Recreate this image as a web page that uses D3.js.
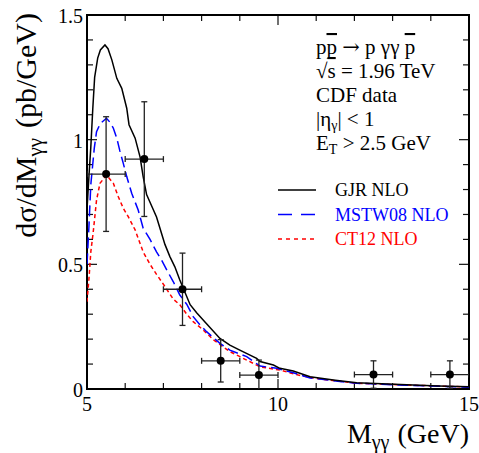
<!DOCTYPE html>
<html>
<head>
<meta charset="utf-8">
<script src="https://cdn.jsdelivr.net/npm/d3@7"></script>
<style>
  body { margin: 0; background: #fff; }
  text { font-family: "Liberation Serif", "DejaVu Serif", serif; }
</style>
</head>
<body>
<script>
//CDF exclusive diphoton data points (bin centres, values, errors)
var cdfMass = [5.5, 6.5, 7.5, 8.5, 9.5, 12.5, 14.5];
var cdfXsec = [0.862, 0.922, 0.40, 0.113, 0.056, 0.058, 0.058];
var cdfErr = [0.23, 0.23, 0.145, 0.085, 0.06, 0.055, 0.055];
var cdfBinHalf = [0.5, 0.5, 0.5, 0.5, 0.5, 0.5, 0.5];

//GJR NLO curve
var gjrMass = [5.0, 5.05, 5.1, 5.15, 5.2, 5.28, 5.35, 5.47, 5.55, 5.65, 5.78, 5.91, 6.04, 6.1, 6.26, 6.39, 6.47, 6.56, 6.69, 6.82, 6.96, 7.04, 7.17, 7.3, 7.43, 7.52, 7.7, 7.87, 8.13, 8.48, 8.74, 9.0, 9.44, 9.53, 9.88, 10.05, 10.4, 10.84, 11.5, 12.06, 13.37, 14.2, 15.0];
var gjrXsec = [0.72, 0.85, 0.97, 1.12, 1.25, 1.327, 1.36, 1.38, 1.365, 1.32, 1.246, 1.206, 1.126, 1.06, 1.006, 0.93, 0.852, 0.78, 0.735, 0.69, 0.62, 0.58, 0.531, 0.49, 0.437, 0.404, 0.338, 0.306, 0.262, 0.203, 0.176, 0.156, 0.123, 0.11, 0.096, 0.083, 0.072, 0.049, 0.035, 0.025, 0.017, 0.012, 0.009];

//MSTW08 NLO curve
var mstwMass = [5.0, 5.05, 5.1, 5.19, 5.25, 5.35, 5.51, 5.6, 5.69, 5.78, 5.86, 5.95, 6.04, 6.17, 6.34, 6.47, 6.65, 6.82, 6.96, 7.09, 7.26, 7.43, 7.61, 7.78, 7.96, 8.13, 8.48, 8.74, 9.18, 9.53, 9.97, 10.4, 10.84, 12.06, 13.37, 15.0];
var mstwXsec = [0.50, 0.65, 0.82, 0.965, 1.032, 1.065, 1.086, 1.07, 1.046, 1.006, 0.955, 0.905, 0.852, 0.785, 0.718, 0.645, 0.60, 0.55, 0.515, 0.477, 0.43, 0.377, 0.34, 0.29, 0.257, 0.23, 0.183, 0.156, 0.13, 0.092, 0.083, 0.065, 0.044, 0.023, 0.015, 0.007];

//CT12 NLO curve
var ctMass = [5.0, 5.05, 5.1, 5.16, 5.25, 5.34, 5.51, 5.69, 5.82, 5.95, 6.08, 6.26, 6.47, 6.65, 6.82, 7.0, 7.26, 7.43, 7.61, 7.78, 8.04, 8.31, 8.74, 9.18, 9.53, 10.05, 10.53, 11.0, 12.06, 13.37, 15.0];
var ctXsec = [0.35, 0.44, 0.55, 0.625, 0.758, 0.825, 0.858, 0.825, 0.771, 0.725, 0.691, 0.638, 0.55, 0.50, 0.46, 0.42, 0.36, 0.338, 0.3, 0.27, 0.237, 0.197, 0.15, 0.116, 0.089, 0.076, 0.056, 0.042, 0.023, 0.016, 0.008];

//Tick labels
var xTickLabels = [5, 10, 15];
var yTickLabels = [0, 0.5, 1, 1.5];

//Plot area
var w = 479, h = 453;
var padL = 87, padR = 469, padT = 15, padB = 389;

var xScale = d3.scaleLinear().domain([5, 15]).range([padL, padR]);
var yScale = d3.scaleLinear().domain([0, 1.5]).range([padB, padT]);

var svg = d3.select("body")
  .append("svg")
  .attr("width", w)
  .attr("height", h);

svg.append("rect").attr("width", w).attr("height", h).attr("fill", "#fff");

svg.append("clipPath").attr("id", "plotclip")
  .append("rect")
  .attr("x", padL).attr("y", padT)
  .attr("width", padR - padL).attr("height", padB - padT);

//Ticks (inward, mirrored on top and right)
var ticks = svg.append("g").attr("stroke", "#111").attr("stroke-width", 1.2);
d3.range(5, 15.01, 1).forEach(function(v) {
  var len = (v % 5 === 0) ? 10 : 6;
  var x = xScale(v);
  ticks.append("line").attr("x1", x).attr("x2", x).attr("y1", padB).attr("y2", padB - len);
  ticks.append("line").attr("x1", x).attr("x2", x).attr("y1", padT).attr("y2", padT + len);
});
d3.range(0, 15.01, 1).forEach(function(k) {
  var len = (k % 5 === 0) ? 10 : 6;
  var y = yScale(k / 10);
  ticks.append("line").attr("x1", padL).attr("x2", padL + len).attr("y1", y).attr("y2", y);
  ticks.append("line").attr("x1", padR).attr("x2", padR - len).attr("y1", y).attr("y2", y);
});

//Frame
svg.append("rect")
  .attr("x", padL).attr("y", padT)
  .attr("width", padR - padL).attr("height", padB - padT)
  .attr("fill", "none").attr("stroke", "#000").attr("stroke-width", 2);

//Tick labels
svg.selectAll(".xlab")
  .data(xTickLabels)
  .enter()
  .append("text")
  .attr("x", function(d) { return xScale(d); })
  .attr("y", 411)
  .attr("text-anchor", "middle")
  .attr("font-size", 20)
  .text(function(d) { return d; });

svg.selectAll(".ylab")
  .data(yTickLabels)
  .enter()
  .append("text")
  .attr("x", 83)
  .attr("y", function(d) { return yScale(d) + 8; })
  .attr("text-anchor", "end")
  .attr("font-size", 20)
  .text(function(d) { return d; });

//Axis titles
var xt = svg.append("text")
  .attr("x", padR).attr("y", 443)
  .attr("text-anchor", "end")
  .attr("font-size", 28);
xt.append("tspan").text("M");
xt.append("tspan").attr("font-size", 20).attr("dy", 6).text("γγ");
xt.append("tspan").attr("dy", -6).attr("dx", 8).text("(GeV)");

var yt = svg.append("text")
  .attr("transform", "translate(36,13) rotate(-90)")
  .attr("text-anchor", "end")
  .attr("font-size", 30);
yt.append("tspan").text("dσ/dM");
yt.append("tspan").attr("font-size", 21).attr("dy", 6).text("γγ");
yt.append("tspan").attr("dy", -6).attr("dx", 10).text("(pb/GeV)");

//Theory curves
var line = d3.line()
  .x(function(d) { return xScale(d[0]); })
  .y(function(d) { return yScale(d[1]); });

var curves = svg.append("g").attr("clip-path", "url(#plotclip)").attr("fill", "none");
curves.append("path")
  .attr("d", line(d3.zip(ctMass, ctXsec)))
  .attr("stroke", "#ff0000").attr("stroke-width", 1.5)
  .attr("stroke-dasharray", "4,3");
curves.append("path")
  .attr("d", line(d3.zip(mstwMass, mstwXsec)))
  .attr("stroke", "#0000ff").attr("stroke-width", 1.5)
  .attr("stroke-dasharray", "11,5");
curves.append("path")
  .attr("d", line(d3.zip(gjrMass, gjrXsec)))
  .attr("stroke", "#000").attr("stroke-width", 1.5);

//Data points with error bars
var pts = svg.append("g").attr("clip-path", "url(#plotclip)");
cdfMass.forEach(function(m, i) {
  var cx = xScale(m), cy = yScale(cdfXsec[i]);
  var x0 = xScale(m - cdfBinHalf[i]), x1 = xScale(m + cdfBinHalf[i]);
  var y0 = yScale(cdfXsec[i] - cdfErr[i]), y1 = yScale(cdfXsec[i] + cdfErr[i]);
  var g = pts.append("g").attr("stroke", "#222").attr("stroke-width", 1.3);
  g.append("line").attr("x1", x0).attr("x2", x1).attr("y1", cy).attr("y2", cy);
  g.append("line").attr("x1", cx).attr("x2", cx).attr("y1", y0).attr("y2", y1);
  g.append("line").attr("x1", x0).attr("x2", x0).attr("y1", cy - 3).attr("y2", cy + 3);
  g.append("line").attr("x1", x1).attr("x2", x1).attr("y1", cy - 3).attr("y2", cy + 3);
  g.append("line").attr("x1", cx - 3).attr("x2", cx + 3).attr("y1", y0).attr("y2", y0);
  g.append("line").attr("x1", cx - 3).attr("x2", cx + 3).attr("y1", y1).attr("y2", y1);
  pts.append("circle").attr("cx", cx).attr("cy", cy).attr("r", 4).attr("fill", "#000");
});

//Process annotation
var ann = svg.append("g").attr("font-size", 21);
var a1 = ann.append("text").attr("x", 316).attr("y", 54);
a1.append("tspan").text("p");
a1.append("tspan").style("text-decoration", "overline").text("p");
a1.append("tspan").text(" ");
a1.append("tspan").attr("font-family", "DejaVu Serif").attr("font-size", 21).text("→");
a1.append("tspan").text(" p γγ ");
a1.append("tspan").style("text-decoration", "overline").text("p");
var a2 = ann.append("text").attr("x", 316).attr("y", 78);
a2.append("tspan").text("√");
a2.append("tspan").style("text-decoration", "overline").text("s");
a2.append("tspan").text(" = 1.96 TeV");
ann.append("text").attr("x", 316).attr("y", 102).text("CDF data");
var a4 = ann.append("text").attr("x", 316).attr("y", 126);
a4.append("tspan").text("|η");
a4.append("tspan").attr("font-size", 14).attr("dy", 4).text("γ");
a4.append("tspan").attr("dy", -4).text("| < 1");
var a5 = ann.append("text").attr("x", 316).attr("y", 150);
a5.append("tspan").text("E");
a5.append("tspan").attr("font-size", 14).attr("dy", 4).text("T");
a5.append("tspan").attr("dy", -4).text(" > 2.5 GeV");

//Legend
var legendNames = ["GJR NLO", "MSTW08 NLO", "CT12 NLO"];
var legendColors = ["#000", "#0000ff", "#ff0000"];
var legendDash = [null, "14,9", "4,4"];
legendNames.forEach(function(name, i) {
  var y = 190 + i * 24.5;
  svg.append("line")
    .attr("x1", 278).attr("x2", 316).attr("y1", y).attr("y2", y)
    .attr("stroke", legendColors[i]).attr("stroke-width", 1.5)
    .attr("stroke-dasharray", legendDash[i]);
  svg.append("text")
    .attr("x", 335).attr("y", y + 6)
    .attr("font-size", 18)
    .attr("fill", legendColors[i])
    .text(name);
});
</script>
</body>
</html>
